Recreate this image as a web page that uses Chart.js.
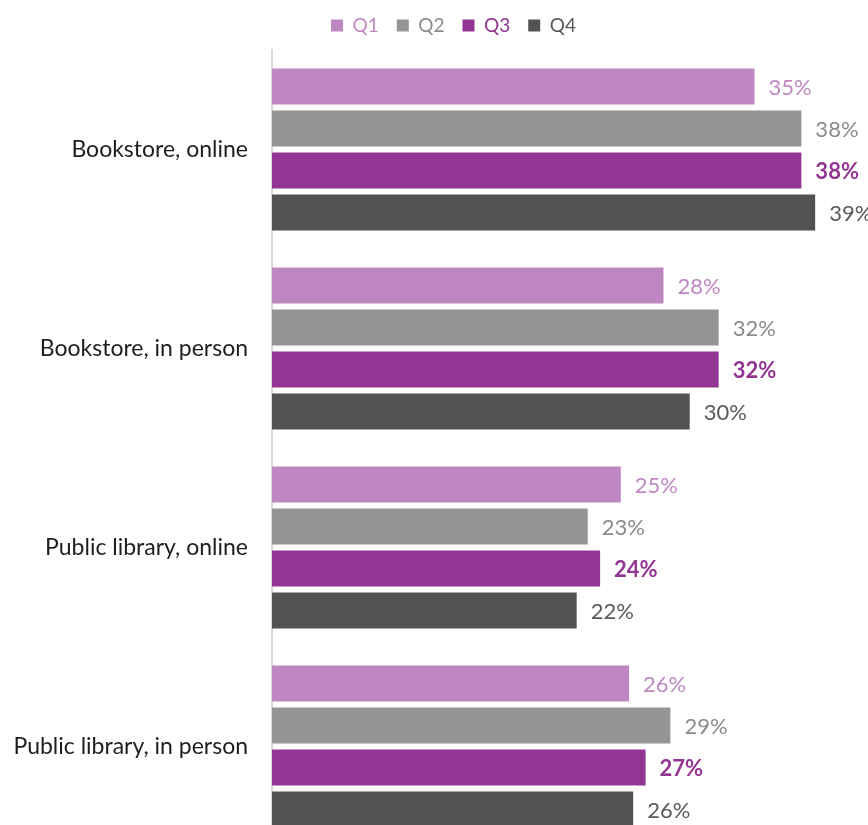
<!DOCTYPE html>
<html lang="en">
<head>
  <meta charset="UTF-8" />
  <title>Where books were bought, by quarter</title>
  <script src="https://cdn.jsdelivr.net/npm/chart.js"></script>
  <style>
    html, body {margin:0; padding:0; background:#fff; overflow:hidden;}
    #chart {display:block;}
  </style>
</head>
<body>
  <canvas id="chart" width="868" height="850"></canvas>

  <script>
    // channels and quarterly shares (%)
    const categories = ['Bookstore, online', 'Bookstore, in person', 'Public library, online', 'Public library, in person'];
    const seriesNames = ['Q1', 'Q2', 'Q3', 'Q4'];
    const q1 = [35.0, 28.4, 25.3, 25.9];
    const q2 = [38.4, 32.4, 22.9, 28.9];
    const q3 = [38.4, 32.4, 23.8, 27.1];
    const q4 = [39.4, 30.3, 22.1, 26.2];

    const barColors = ['#bf87c1', '#949494', '#933593', '#525252'];
    const textColors = ['#bf87c1', '#8a8a8a', '#933593', '#595959'];
    const FONT = 'Lato, "Open Sans", sans-serif';

    // value labels at the end of each bar
    const barLabels = {
      id: 'barLabels',
      afterDatasetsDraw(chart) {
        const ctx = chart.ctx;
        ctx.save();
        ctx.textBaseline = 'middle';
        ctx.textAlign = 'left';
        chart.data.datasets.forEach((ds, i) => {
          const meta = chart.getDatasetMeta(i);
          ctx.fillStyle = textColors[i];
          ctx.font = (i === 2 ? 'bold ' : '') + '22px ' + FONT;
          meta.data.forEach((bar, j) => {
            ctx.fillText(Math.round(ds.data[j]) + '%', bar.x + 14, bar.y + 1);
          });
        });
        ctx.restore();
      }
    };

    // nudge the legend a bit right and up
    const legendNudge = {
      id: 'legendNudge',
      afterLayout(chart) {
        const lg = chart.legend;
        lg.left += 28; lg.right += 28;
        lg.top -= 5; lg.bottom -= 5;
      }
    };

    const series = [q1, q2, q3, q4];
    new Chart(document.getElementById('chart'), {
      type: 'bar',
      data: {
        labels: categories,
        datasets: series.map((d, i) => ({
          label: seriesNames[i],
          data: d,
          backgroundColor: barColors[i],
          borderWidth: 0,
          barPercentage: 0.857,
          categoryPercentage: 0.845
        }))
      },
      options: {
        indexAxis: 'y',
        responsive: false,
        animation: false,
        layout: {padding: {top: 3, right: 17, bottom: 4, left: 0}},
        scales: {
          x: {display: false, min: 0, max: 42},
          y: {
            afterFit(scale) {
              scale.width = 272;
              scale.paddingTop = 0;
              scale.paddingBottom = 0;
            },
            grid: {display: false, drawTicks: false},
            border: {display: true, color: '#d9d9d9', width: 2},
            ticks: {color: '#1e1e1e', padding: 24, font: {family: FONT, size: 23}}
          }
        },
        plugins: {
          legend: {
            position: 'top',
            labels: {
              boxWidth: 12, boxHeight: 12, padding: 18,
              font: {family: FONT, size: 19},
              generateLabels(chart) {
                return chart.data.datasets.map((ds, i) => ({
                  text: ds.label,
                  fillStyle: barColors[i],
                  strokeStyle: barColors[i],
                  lineWidth: 0,
                  fontColor: textColors[i],
                  datasetIndex: i
                }));
              }
            }
          },
          tooltip: {enabled: false}
        }
      },
      plugins: [barLabels, legendNudge]
    });
  </script>
</body>
</html>
